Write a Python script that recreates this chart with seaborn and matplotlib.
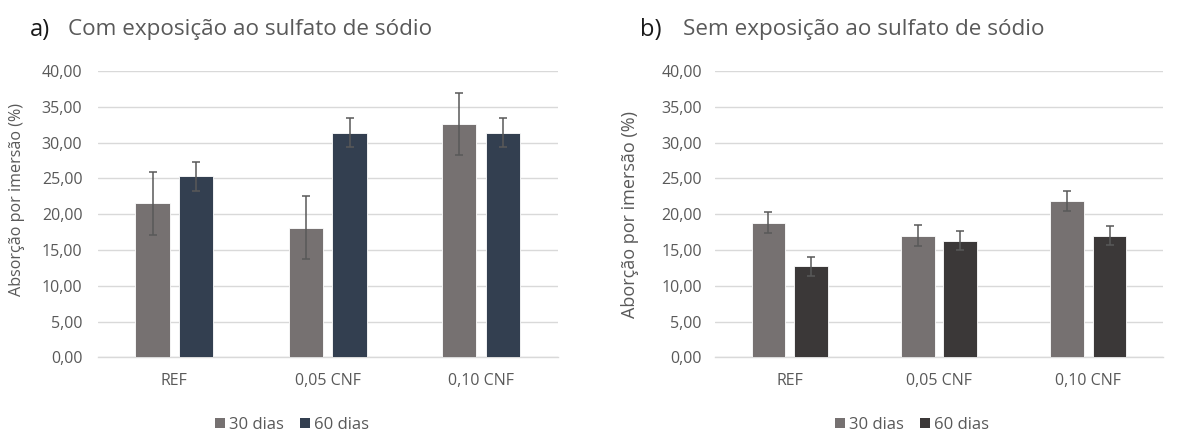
import matplotlib
matplotlib.use("Agg")
import matplotlib.pyplot as plt
import seaborn as sns
import pandas as pd
from matplotlib.ticker import FuncFormatter, MultipleLocator
from matplotlib.patches import Patch

categories = ["REF", "0,05 CNF", "0,10 CNF"]
series = ["30 dias", "60 dias"]

# Panel a) with sodium sulfate exposure
com_30 = [21.5, 18.1, 32.6]
com_60 = [25.3, 31.4, 31.4]
com_30_err = [4.4, 4.4, 4.3]
com_60_err = [2.0, 2.05, 2.05]

# Panel b) without exposure
sem_30 = [18.8, 17.0, 21.8]
sem_60 = [12.7, 16.3, 17.0]
sem_30_err = [1.45, 1.45, 1.4]
sem_60_err = [1.35, 1.35, 1.35]

titles = ["Com exposição ao sulfato de sódio", "Sem exposição ao sulfato de sódio"]
letters = ["a)", "b)"]
ylabels = ["Absorção por imersão (%)", "Aborção por imersão (%)"]

sns.set_theme(style="white")
plt.rcParams["font.family"] = ["Open Sans", "DejaVu Sans"]

GRAY = "#767171"
TEXT = "#595959"
GRID = "#D9D9D9"
palettes = [[GRAY, "#333F50"], [GRAY, "#3B3838"]]

fig = plt.figure(figsize=(11.95, 4.33), dpi=100)
W, H = 1195, 433
axes_px = [(97.7, 557.7), (715, 1163)]
legend_cx = [292, 912]
title_x = [(30, 68), (640, 683)]
ytick_pad = [11, 9.5]
ylabel_pos = [(25, 200, 11.6), (639, 214, 13.0)]

panels = [
    (com_30, com_60, com_30_err, com_60_err),
    (sem_30, sem_60, sem_30_err, sem_60_err),
]

for i, (v30, v60, e30, e60) in enumerate(panels):
    x0, x1 = axes_px[i]
    ax = fig.add_axes([x0 / W, (H - 357.3) / H, (x1 - x0) / W, 286.3 / H])
    df = pd.DataFrame({
        "cat": categories * 2,
        "serie": [series[0]] * 3 + [series[1]] * 3,
        "val": v30 + v60,
    })
    sns.barplot(data=df, x="cat", y="val", hue="serie", order=categories,
                hue_order=series, palette=palettes[i], width=0.57, gap=0.21,
                errorbar=None, saturation=1, ax=ax, legend=False,
                edgecolor="white", linewidth=0.6, zorder=3)
    for cont, errs in zip(ax.containers, [e30, e60]):
        xs = [b.get_x() + b.get_width() / 2 for b in cont]
        hs = [b.get_height() for b in cont]
        ax.errorbar(xs, hs, yerr=errs, fmt="none", ecolor="#595959",
                    elinewidth=1.1, capsize=2.9, capthick=1.1, zorder=4)

    ax.set_ylim(0, 40)
    ax.set_xlim(-0.5, 2.5)
    ax.yaxis.set_major_locator(MultipleLocator(5))
    ax.yaxis.set_major_formatter(FuncFormatter(lambda v, p: f"{v:.2f}".replace(".", ",")))
    ax.grid(axis="y", color=GRID, linewidth=1.0, zorder=0)
    ax.set_axisbelow(True)
    for s in ["top", "right", "left"]:
        ax.spines[s].set_visible(False)
    ax.spines["bottom"].set_color(GRID)
    ax.spines["bottom"].set_linewidth(1.0)
    ax.tick_params(axis="y", length=0, labelsize=11.5, labelcolor=TEXT, pad=ytick_pad[i])
    ax.tick_params(axis="x", length=0, labelsize=11.5, labelcolor=TEXT, pad=11)
    ax.set_xlabel("")
    lxp, lyp, lfs = ylabel_pos[i]
    ax.set_ylabel(ylabels[i], fontsize=lfs, color=TEXT)
    ax.yaxis.set_label_coords((lxp - x0) / (x1 - x0), (357.3 - lyp) / 286.3)

    lx, tx = title_x[i]
    fig.text(lx / W, 1 - 30 / H, letters[i], fontsize=17, color="#1a1a1a",
             va="center", ha="left")
    fig.text(tx / W, 1 - 29 / H, titles[i], fontsize=16.2, color=TEXT,
             va="center", ha="left")

    handles = [Patch(facecolor=c, edgecolor="none") for c in palettes[i]]
    fig.legend(handles, series, loc="center", bbox_to_anchor=(legend_cx[i] / W, 1 - 425 / H),
               ncol=2, frameon=False, fontsize=12, labelcolor=TEXT,
               handlelength=0.6, handleheight=0.6, handletextpad=0.2,
               columnspacing=1.0)

fig.savefig("out.png", dpi=100, facecolor="white")
